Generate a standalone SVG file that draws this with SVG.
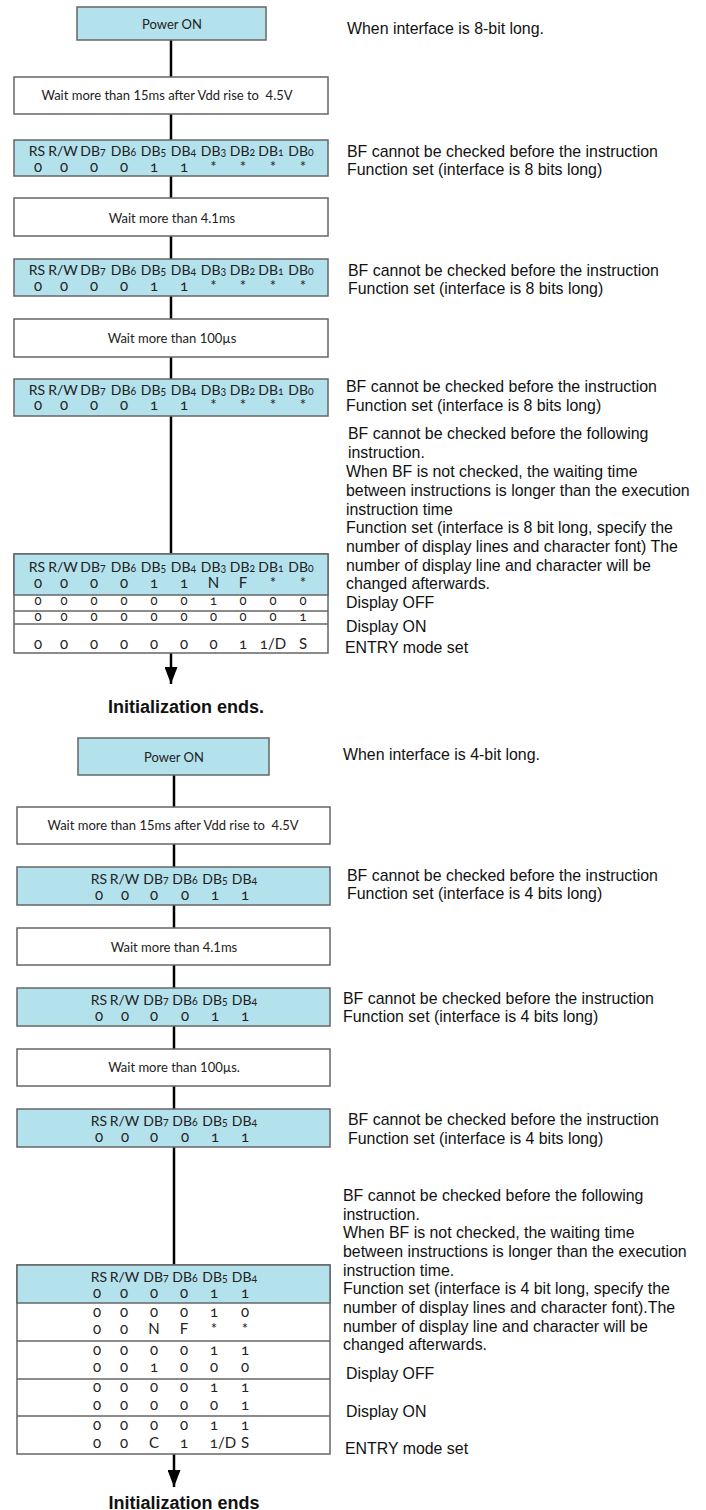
<svg xmlns="http://www.w3.org/2000/svg" width="706" height="1510" viewBox="0 0 706 1510">
<style>
.blue{fill:#b3e1ec;stroke:#666;stroke-width:1.5}
.white{fill:#fff;stroke:#666;stroke-width:1.5}
.rl{stroke:#666;stroke-width:1.5}
.bx{font-family:Lato,"Noto Sans",sans-serif;font-size:15px;fill:#222;text-anchor:middle;font-variant-numeric:oldstyle-nums}
.sm{font-size:13px}
.ln{font-size:13px;font-variant-numeric:lining-nums}
.hd{font-size:14px}
.sd{font-size:10.5px}
.note{font-family:"Liberation Sans",Arial,sans-serif;font-size:15.9px;fill:#111}
.end{font-family:"Liberation Sans",Arial,sans-serif;font-weight:bold;font-size:18px;fill:#111;text-anchor:middle}
.conn{stroke:#000;stroke-width:2.5;fill:none}
</style>
<defs>
<marker id="arr" markerUnits="userSpaceOnUse" markerWidth="17" markerHeight="13" viewBox="0 0 17 13" refX="17" refY="6.5" orient="auto">
<path d="M0,0 L17,6.5 L0,13 z" fill="#000"/>
</marker>
</defs>

<g id="connectors">
<line class="conn" x1="171" y1="40" x2="171" y2="77"/>
<line class="conn" x1="171" y1="114" x2="171" y2="140"/>
<line class="conn" x1="171" y1="176" x2="171" y2="198"/>
<line class="conn" x1="171" y1="236" x2="171" y2="259"/>
<line class="conn" x1="171" y1="296" x2="171" y2="319"/>
<line class="conn" x1="171" y1="357" x2="171" y2="379"/>
<line class="conn" x1="171" y1="416" x2="171" y2="554"/>
<line class="conn" x1="171" y1="653" x2="171" y2="684" marker-end="url(#arr)"/>
<line class="conn" x1="174" y1="775" x2="174" y2="807"/>
<line class="conn" x1="174" y1="844" x2="174" y2="867"/>
<line class="conn" x1="174" y1="905" x2="174" y2="928"/>
<line class="conn" x1="174" y1="965" x2="174" y2="988"/>
<line class="conn" x1="174" y1="1026" x2="174" y2="1049"/>
<line class="conn" x1="174" y1="1086" x2="174" y2="1109"/>
<line class="conn" x1="174" y1="1147" x2="174" y2="1265"/>
<line class="conn" x1="174" y1="1454" x2="174" y2="1487" marker-end="url(#arr)"/>
</g>

<!-- Section 1: 8-bit -->
<g id="power1">
<rect class="blue" x="77" y="7" width="189" height="33"/>
<text class="bx ln" x="172" y="29">Power ON</text>
</g>
<text class="note" x="347" y="34">When interface is 8-bit long.</text>

<g id="wait1">
<rect class="white" x="14" y="77" width="314" height="37"/>
<text class="bx ln" x="167" y="100" xml:space="preserve">Wait more than 15ms after Vdd rise to  4.5V</text>
</g>

<g id="fs1">
<rect class="blue" x="14" y="140" width="314" height="36"/>
<g class="bx hd">
<text x="37" y="156">RS</text><text x="63" y="156">R/W</text>
<text x="93" y="156">DB<tspan class="sd">7</tspan></text><text x="123.5" y="156">DB<tspan class="sd">6</tspan></text>
<text x="153.5" y="156">DB<tspan class="sd">5</tspan></text><text x="183.5" y="156">DB<tspan class="sd">4</tspan></text>
<text x="213.5" y="156">DB<tspan class="sd">3</tspan></text><text x="242.5" y="156">DB<tspan class="sd">2</tspan></text>
<text x="271" y="156">DB<tspan class="sd">1</tspan></text><text x="301" y="156">DB<tspan class="sd">0</tspan></text>
</g>
<g class="bx">
<text x="38" y="172">0</text><text x="64" y="172">0</text><text x="94" y="172">0</text><text x="124" y="172">0</text>
<text x="154" y="172">1</text><text x="184" y="172">1</text><text x="213.5" y="172">*</text><text x="243" y="172">*</text>
<text x="273" y="172">*</text><text x="303" y="172">*</text>
</g>
</g>
<text class="note" x="347" y="157">BF cannot be checked before the instruction</text>
<text class="note" x="347" y="175">Function set (interface is 8 bits long)</text>

<g id="wait2">
<rect class="white" x="14" y="198" width="314" height="38"/>
<text class="bx ln" x="172" y="223">Wait more than 4.1ms</text>
</g>

<g id="fs2">
<rect class="blue" x="14" y="259" width="314" height="37"/>
<g class="bx hd">
<text x="37" y="275">RS</text><text x="63" y="275">R/W</text>
<text x="93" y="275">DB<tspan class="sd">7</tspan></text><text x="123.5" y="275">DB<tspan class="sd">6</tspan></text>
<text x="153.5" y="275">DB<tspan class="sd">5</tspan></text><text x="183.5" y="275">DB<tspan class="sd">4</tspan></text>
<text x="213.5" y="275">DB<tspan class="sd">3</tspan></text><text x="242.5" y="275">DB<tspan class="sd">2</tspan></text>
<text x="271" y="275">DB<tspan class="sd">1</tspan></text><text x="301" y="275">DB<tspan class="sd">0</tspan></text>
</g>
<g class="bx">
<text x="38" y="291">0</text><text x="64" y="291">0</text><text x="94" y="291">0</text><text x="124" y="291">0</text>
<text x="154" y="291">1</text><text x="184" y="291">1</text><text x="213.5" y="291">*</text><text x="243" y="291">*</text>
<text x="273" y="291">*</text><text x="303" y="291">*</text>
</g>
</g>
<text class="note" x="348" y="276">BF cannot be checked before the instruction</text>
<text class="note" x="348" y="294">Function set (interface is 8 bits long)</text>

<g id="wait3">
<rect class="white" x="14" y="319" width="314" height="38"/>
<text class="bx ln" x="172" y="343">Wait more than 100µs</text>
</g>

<g id="fs3">
<rect class="blue" x="14" y="379" width="314" height="37"/>
<g class="bx hd">
<text x="37" y="395">RS</text><text x="63" y="395">R/W</text>
<text x="93" y="395">DB<tspan class="sd">7</tspan></text><text x="123.5" y="395">DB<tspan class="sd">6</tspan></text>
<text x="153.5" y="395">DB<tspan class="sd">5</tspan></text><text x="183.5" y="395">DB<tspan class="sd">4</tspan></text>
<text x="213.5" y="395">DB<tspan class="sd">3</tspan></text><text x="242.5" y="395">DB<tspan class="sd">2</tspan></text>
<text x="271" y="395">DB<tspan class="sd">1</tspan></text><text x="301" y="395">DB<tspan class="sd">0</tspan></text>
</g>
<g class="bx">
<text x="38" y="410">0</text><text x="64" y="410">0</text><text x="94" y="410">0</text><text x="124" y="410">0</text>
<text x="154" y="410">1</text><text x="184" y="410">1</text><text x="213.5" y="410">*</text><text x="243" y="410">*</text>
<text x="273" y="410">*</text><text x="303" y="410">*</text>
</g>
</g>
<text class="note" x="346" y="392">BF cannot be checked before the instruction</text>
<text class="note" x="346" y="411">Function set (interface is 8 bits long)</text>

<g id="notes1">
<text class="note" x="348" y="439">BF cannot be checked before the following</text>
<text class="note" x="348" y="458">instruction.</text>
<text class="note" x="346" y="477">When BF is not checked, the waiting time</text>
<text class="note" x="346" y="496">between instructions is longer than the execution</text>
<text class="note" x="346" y="515">instruction time</text>
<text class="note" x="346" y="533">Function set (interface is 8 bit long, specify the</text>
<text class="note" x="346" y="552">number of display lines and character font) The</text>
<text class="note" x="346" y="571">number of display line and character will be</text>
<text class="note" x="346" y="589">changed afterwards.</text>
<text class="note" x="346" y="608">Display OFF</text>
<text class="note" x="346" y="632">Display ON</text>
<text class="note" x="345" y="653">ENTRY mode set</text>
</g>

<g id="table1">
<rect class="white" x="14" y="554" width="314" height="99"/>
<rect class="blue" x="14" y="554" width="314" height="41"/>
<line class="rl" x1="14" y1="611" x2="328" y2="611"/>
<line class="rl" x1="14" y1="624" x2="328" y2="624"/>
<g class="bx hd">
<text x="37" y="572">RS</text><text x="63" y="572">R/W</text>
<text x="93" y="572">DB<tspan class="sd">7</tspan></text><text x="123.5" y="572">DB<tspan class="sd">6</tspan></text>
<text x="153.5" y="572">DB<tspan class="sd">5</tspan></text><text x="183.5" y="572">DB<tspan class="sd">4</tspan></text>
<text x="213.5" y="572">DB<tspan class="sd">3</tspan></text><text x="242.5" y="572">DB<tspan class="sd">2</tspan></text>
<text x="271" y="572">DB<tspan class="sd">1</tspan></text><text x="301" y="572">DB<tspan class="sd">0</tspan></text>
</g>
<g class="bx">
<text x="38" y="588">0</text><text x="64" y="588">0</text><text x="94" y="588">0</text><text x="124" y="588">0</text>
<text x="154" y="588">1</text><text x="184" y="588">1</text><text x="213.5" y="588">N</text><text x="243" y="588">F</text>
<text x="273" y="588">*</text><text x="303" y="588">*</text>
</g>
<g class="bx sm">
<text x="38" y="605">0</text><text x="64" y="605">0</text><text x="94" y="605">0</text><text x="124" y="605">0</text>
<text x="154" y="605">0</text><text x="184" y="605">0</text><text x="213.5" y="605">1</text><text x="243" y="605">0</text>
<text x="273" y="605">0</text><text x="303" y="605">0</text>
<text x="38" y="621">0</text><text x="64" y="621">0</text><text x="94" y="621">0</text><text x="124" y="621">0</text>
<text x="154" y="621">0</text><text x="184" y="621">0</text><text x="213.5" y="621">0</text><text x="243" y="621">0</text>
<text x="273" y="621">0</text><text x="303" y="621">1</text>
</g>
<g class="bx">
<text x="38" y="649">0</text><text x="64" y="649">0</text><text x="94" y="649">0</text><text x="124" y="649">0</text>
<text x="154" y="649">0</text><text x="184" y="649">0</text><text x="213.5" y="649">0</text><text x="243" y="649">1</text>
<text x="273" y="649">1/D</text><text x="303" y="649">S</text>
</g>
</g>

<text id="end1" class="end" x="186" y="713">Initialization ends.</text>

<!-- Section 2: 4-bit -->
<g id="power2">
<rect class="blue" x="78" y="738" width="191" height="37"/>
<text class="bx ln" x="174" y="762">Power ON</text>
</g>
<text class="note" x="343" y="760">When interface is 4-bit long.</text>

<g id="wait4">
<rect class="white" x="17" y="807" width="313" height="37"/>
<text class="bx ln" x="173" y="830" xml:space="preserve">Wait more than 15ms after Vdd rise to  4.5V</text>
</g>

<g id="fs4">
<rect class="blue" x="17" y="867" width="313" height="38"/>
<g class="bx hd">
<text x="99" y="884">RS</text><text x="124.5" y="884">R/W</text>
<text x="156" y="884">DB<tspan class="sd">7</tspan></text><text x="185" y="884">DB<tspan class="sd">6</tspan></text>
<text x="215" y="884">DB<tspan class="sd">5</tspan></text><text x="244.5" y="884">DB<tspan class="sd">4</tspan></text>
</g>
<g class="bx">
<text x="99" y="900">0</text><text x="125" y="900">0</text><text x="154" y="900">0</text><text x="185" y="900">0</text>
<text x="215" y="900">1</text><text x="245" y="900">1</text>
</g>
</g>
<text class="note" x="347" y="881">BF cannot be checked before the instruction</text>
<text class="note" x="347" y="899">Function set (interface is 4 bits long)</text>

<g id="wait5">
<rect class="white" x="17" y="928" width="313" height="37"/>
<text class="bx ln" x="174" y="952">Wait more than 4.1ms</text>
</g>

<g id="fs5">
<rect class="blue" x="17" y="988" width="313" height="38"/>
<g class="bx hd">
<text x="99" y="1005">RS</text><text x="124.5" y="1005">R/W</text>
<text x="156" y="1005">DB<tspan class="sd">7</tspan></text><text x="185" y="1005">DB<tspan class="sd">6</tspan></text>
<text x="215" y="1005">DB<tspan class="sd">5</tspan></text><text x="244.5" y="1005">DB<tspan class="sd">4</tspan></text>
</g>
<g class="bx">
<text x="99" y="1021">0</text><text x="125" y="1021">0</text><text x="154" y="1021">0</text><text x="185" y="1021">0</text>
<text x="215" y="1021">1</text><text x="245" y="1021">1</text>
</g>
</g>
<text class="note" x="343" y="1004">BF cannot be checked before the instruction</text>
<text class="note" x="343" y="1022">Function set (interface is 4 bits long)</text>

<g id="wait6">
<rect class="white" x="17" y="1049" width="313" height="37"/>
<text class="bx ln" x="174" y="1072">Wait more than 100µs.</text>
</g>

<g id="fs6">
<rect class="blue" x="17" y="1109" width="313" height="38"/>
<g class="bx hd">
<text x="99" y="1126">RS</text><text x="124.5" y="1126">R/W</text>
<text x="156" y="1126">DB<tspan class="sd">7</tspan></text><text x="185" y="1126">DB<tspan class="sd">6</tspan></text>
<text x="215" y="1126">DB<tspan class="sd">5</tspan></text><text x="244.5" y="1126">DB<tspan class="sd">4</tspan></text>
</g>
<g class="bx">
<text x="99" y="1142">0</text><text x="125" y="1142">0</text><text x="154" y="1142">0</text><text x="185" y="1142">0</text>
<text x="215" y="1142">1</text><text x="245" y="1142">1</text>
</g>
</g>
<text class="note" x="348" y="1125">BF cannot be checked before the instruction</text>
<text class="note" x="348" y="1144">Function set (interface is 4 bits long)</text>

<g id="notes2">
<text class="note" x="343" y="1201">BF cannot be checked before the following</text>
<text class="note" x="343" y="1220">instruction.</text>
<text class="note" x="343" y="1238">When BF is not checked, the waiting time</text>
<text class="note" x="343" y="1257">between instructions is longer than the execution</text>
<text class="note" x="343" y="1276">instruction time.</text>
<text class="note" x="343" y="1294">Function set (interface is 4 bit long, specify the</text>
<text class="note" x="343" y="1313">number of display lines and character font).The</text>
<text class="note" x="343" y="1332">number of display line and character will be</text>
<text class="note" x="343" y="1350">changed afterwards.</text>
<text class="note" x="346" y="1379">Display OFF</text>
<text class="note" x="346" y="1417">Display ON</text>
<text class="note" x="345" y="1454">ENTRY mode set</text>
</g>

<g id="table2">
<rect class="white" x="17" y="1265" width="313" height="189"/>
<rect class="blue" x="17" y="1265" width="313" height="38"/>
<line class="rl" x1="17" y1="1341" x2="330" y2="1341"/>
<line class="rl" x1="17" y1="1379" x2="330" y2="1379"/>
<line class="rl" x1="17" y1="1416" x2="330" y2="1416"/>
<g class="bx hd">
<text x="99" y="1282">RS</text><text x="124.5" y="1282">R/W</text>
<text x="156" y="1282">DB<tspan class="sd">7</tspan></text><text x="185" y="1282">DB<tspan class="sd">6</tspan></text>
<text x="215" y="1282">DB<tspan class="sd">5</tspan></text><text x="244.5" y="1282">DB<tspan class="sd">4</tspan></text>
</g>
<g class="bx">
<text x="97" y="1298">0</text><text x="124" y="1298">0</text><text x="154" y="1298">0</text><text x="184" y="1298">0</text><text x="214" y="1298">1</text><text x="245" y="1298">1</text>
<text x="97" y="1317">0</text><text x="124" y="1317">0</text><text x="154" y="1317">0</text><text x="184" y="1317">0</text><text x="214" y="1317">1</text><text x="245" y="1317">0</text>
<text x="97" y="1334">0</text><text x="124" y="1334">0</text><text x="154" y="1334">N</text><text x="184" y="1334">F</text><text x="214" y="1334">*</text><text x="245" y="1334">*</text>
<text x="97" y="1355">0</text><text x="124" y="1355">0</text><text x="154" y="1355">0</text><text x="184" y="1355">0</text><text x="214" y="1355">1</text><text x="245" y="1355">1</text>
<text x="97" y="1372">0</text><text x="124" y="1372">0</text><text x="154" y="1372">1</text><text x="184" y="1372">0</text><text x="214" y="1372">0</text><text x="245" y="1372">0</text>
<text x="97" y="1392">0</text><text x="124" y="1392">0</text><text x="154" y="1392">0</text><text x="184" y="1392">0</text><text x="214" y="1392">1</text><text x="245" y="1392">1</text>
<text x="97" y="1410">0</text><text x="124" y="1410">0</text><text x="154" y="1410">0</text><text x="184" y="1410">0</text><text x="214" y="1410">0</text><text x="245" y="1410">1</text>
<text x="97" y="1430">0</text><text x="124" y="1430">0</text><text x="154" y="1430">0</text><text x="184" y="1430">0</text><text x="214" y="1430">1</text><text x="245" y="1430">1</text>
<text x="97" y="1448">0</text><text x="124" y="1448">0</text><text x="154" y="1448">C</text><text x="184" y="1448">1</text><text x="223" y="1448">1/D</text><text x="245" y="1448">S</text>
</g>
</g>

<text id="end2" class="end" x="184" y="1509">Initialization ends</text>
</svg>
